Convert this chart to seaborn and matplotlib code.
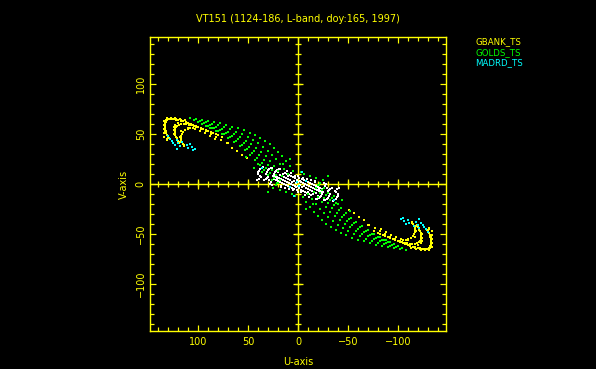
import numpy as np
import pandas as pd
import matplotlib
matplotlib.use("Agg")
import matplotlib.pyplot as plt
import seaborn as sns

# ---------------- data (one half of the uv-plane; conjugate points added) ----
title = "VT151 (1124-186, L-band, doy:165, 1997)"
stations = ["GBANK_TS", "GOLDS_TS", "MADRD_TS"]
station_colors = ["#ffff00", "#00ff00", "#00ffff"]

gbank_u = [129, 130, 131, 132, 132.5, 133, 133, 133, 133, 132.5, 132, 131, 129, 127, 125, 122, 120, 117,
           115, 112, 110, 107, 105, 102, 100, 97, 95, 92, 90, 87, 85, 82, 80, 76, 71, 66, 61, 56, 51,
           131, 134, 134, 134, 134, 133.5, 131, 127, 123, 118, 113,
           120, 121, 122, 123, 123, 123, 123, 122, 121, 119, 117, 114, 112, 109, 107, 104, 102, 97, 92,
           87, 82, 77, 70, 119, 121, 124, 124, 124, 123, 120,
           115, 116, 117, 117, 117, 116, 115, 113, 110, 108, 105, 103, 98, 93, 88, 83, 114, 118, 118, 117]
gbank_v = [46, 47.5, 49, 51, 53, 55, 57, 59, 61, 62.5, 64, 64.5, 65, 65, 65, 64.5, 64, 63.5,
           63, 62, 61, 60, 59, 58, 57, 56, 55, 54, 53, 52, 51, 50, 49, 47, 41, 36, 33, 29, 26,
           44.5, 47, 51, 55, 59, 63, 66, 66, 65.5, 65, 64,
           43, 45, 47, 49, 51, 53, 55, 57, 58, 59, 60, 60, 60, 59.5, 59, 58, 57, 55, 53,
           50, 47, 44, 41, 41.5, 46, 50, 54, 57, 59, 61,
           40, 42, 44, 46, 48, 50, 52, 54, 55.5, 56, 56, 55, 53, 51, 48, 45, 38.5, 42, 47, 53]

golds_u = [108, 102, 96, 90, 84, 78, 72, 66, 60, 54, 48, 43, 38, 33, 28, 24, 20, 16, 12, 8, 5,
           104, 98, 92, 86, 80, 74, 68, 62, 56, 50, 45, 40, 35, 30, 26, 22, 18, 14, 10,
           100, 94, 88, 82, 76, 70, 64, 58, 52, 47, 42, 37, 32, 28, 24, 20, 16,
           96, 90, 84, 78, 72, 66, 60, 54, 49, 44, 39, 34, 30, 26, 22, 18,
           92, 86, 80, 74, 68, 62, 56, 51, 46, 41, 36, 32, 28, 24, 20,
           88, 82, 76, 70, 64, 58, 53, 48, 43, 38, 34, 30, 26, 22,
           12, 18, 6, 25, 30, 15, 8, 21, 3, 44, 36, 52, 40]
golds_v = [66, 65, 64, 63, 62, 61, 59, 57, 56, 54, 51, 49, 46, 43, 40, 36, 32, 28, 23, 18, 13,
           64, 63, 62, 60, 59, 57, 55, 52, 50, 47, 44, 41, 37, 33, 29, 25, 20, 15, 10,
           62, 61, 59, 57, 55, 52, 50, 47, 43, 40, 36, 32, 28, 23, 18, 13, 8,
           60, 58, 56, 54, 51, 48, 45, 41, 37, 33, 29, 24, 19, 14, 9, 4,
           58, 56, 53, 50, 47, 43, 39, 35, 31, 26, 21, 16, 11, 6, 1,
           56, 53, 50, 46, 42, 38, 34, 29, 24, 19, 14, 9, 4, -1,
           -8, -6, -10, -4, -8, 20, 25, 1, -12, 16, 12, 27, 20]

madrd_u = [130, 128, 126, 125, 123, 121, 120, 118, 116, 121, 111, 110, 108, 106, 105, 103, 36, -4, 8, 1]
madrd_v = [48, 45, 43, 41, 39, 44, 41, 38, 42, 35, 39, 36, 40, 37, 34, 35, 16, 12, -3, 2]

other_u = [40, 39, 38, 36, 35, 37, 39, 41, 40, 38, 34,
           32, 31, 30, 29, 27, 26, 30, 32, 31, 29,
           24, 23, 22, 21, 19, 18, 22, 24, 23, 21,
           2, 4, 6, 8, 10, 12, 14, 16, 18, 3, 5, 7, 9, 11, 13, 15, 17, 19, 21,
           1, 3, 5, 7, 9, 11, 13, 6, 8, 10, 12, 14, 16, 18, 20, 22, 24,
           0, 2, 4, 10, 15, 20, 23, 25, 27, 26, 28, 17, 1, 0,
           5, 9, 13, 17, 3, 7, 11]
other_v = [10, 13, 15, 16, 17, 7, 5, 4, 12, 8, 4,
           10, 12, 14, 15, 16, 16, 7, 5, 6, 4,
           10, 12, 13, 14, 15, 15, 7, 6, 8, 5,
           1, 3, 2, 4, 5, 6, 7, 8, 9, -2, -1, 0, 1, 2, 3, 4, 5, 6, 7,
           4, 6, 7, 8, 9, 10, 11, -4, -3, -2, -1, 0, 1, 2, 3, 4, 5,
           2, -3, -5, 8, 10, 12, 9, 8, 2, -1, 0, -2, -6, -8,
           -6, -5, -4, -3, 8, 11, 13]

ticks_major = [-100, -50, 0, 50, 100]
tick_labels = ["\u2212100", "\u221250", "0", "50", "100"]

# ---------------- build tables ----------------------------------------------
parts = []
for name, uu, vv in [("GBANK_TS", gbank_u, gbank_v),
                     ("GOLDS_TS", golds_u, golds_v),
                     ("MADRD_TS", madrd_u, madrd_v),
                     ("OTHER", other_u, other_v)]:
    d = pd.DataFrame({"u": uu, "v": vv})
    d = pd.concat([d, pd.DataFrame({"u": -d["u"], "v": -d["v"]})], ignore_index=True)
    d["station"] = name
    parts.append(d)
df = pd.concat(parts, ignore_index=True)

# ---------------- plot --------------------------------------------------------
sns.set_style("dark")
YEL = "#ffff00"
plt.rcParams["font.family"] = ["DejaVu Sans"]
plt.rcParams["text.color"] = YEL

fig = plt.figure(figsize=(5.96, 3.69), dpi=100, facecolor="black")
ax = fig.add_axes([150 / 596, 1 - 331 / 369, 296 / 596, 294 / 369])
ax.set_facecolor("black")

px = 0.72  # one pixel in points
ax.axhline(0, color=YEL, lw=1.4 * px, zorder=1)
ax.axvline(0, color=YEL, lw=1.4 * px, zorder=1)
minor = np.arange(-140, 141, 10)
ax.plot(minor, np.zeros_like(minor), ls="none", marker="|", ms=6 * px, mew=1.3 * px, color=YEL, zorder=1)
ax.plot(np.zeros_like(minor), minor, ls="none", marker="_", ms=6 * px, mew=1.3 * px, color=YEL, zorder=1)
ax.plot(ticks_major, np.zeros(5), ls="none", marker="|", ms=10 * px, mew=1.3 * px, color=YEL, zorder=1)
ax.plot(np.zeros(5), ticks_major, ls="none", marker="_", ms=10 * px, mew=1.3 * px, color=YEL, zorder=1)

sns.scatterplot(data=df[df.station == "OTHER"], x="u", y="v", color="white", marker="s",
                s=4.5, linewidth=0, ax=ax, legend=False, zorder=2)
main = df[df.station != "OTHER"]
sns.scatterplot(data=main, x="u", y="v", hue="station", hue_order=["GOLDS_TS", "GBANK_TS", "MADRD_TS"],
                palette={s: c for s, c in zip(stations, station_colors)}, marker="s",
                s=4.5, linewidth=0, ax=ax, legend=False, zorder=3)

ax.set_xlim(148, -148)
ax.set_ylim(-147, 147)
ax.set_xticks(ticks_major)
ax.set_xticklabels(tick_labels)
ax.set_yticks(ticks_major)
ax.set_yticklabels(tick_labels)
ax.set_xticks(minor, minor=True)
ax.set_yticks(minor, minor=True)
ax.grid(False)
for sp in ax.spines.values():
    sp.set_visible(True)
    sp.set_color(YEL)
    sp.set_linewidth(1.4 * px)
ax.tick_params(which="both", direction="in", color=YEL, labelcolor=YEL,
               top=True, right=True, bottom=True, left=True, width=1.2 * px)
ax.tick_params(which="major", length=6 * px, labelsize=7)
ax.tick_params(which="minor", length=4 * px)
ax.tick_params(axis="x", which="major", pad=4)
ax.tick_params(axis="y", which="major", pad=3, labelrotation=90)
for lab in ax.get_yticklabels():
    lab.set_va("center")

ax.set_xlabel("U-axis", color=YEL, fontsize=7, labelpad=7.5)
ax.set_ylabel("V-axis", color=YEL, fontsize=7, labelpad=5)
ax.set_title(title, color=YEL, fontsize=7, pad=11)

for i, (name, col) in enumerate(zip(stations, station_colors)):
    fig.text(475 / 596, 1 - (42 + 10.5 * i) / 369, name, color=col, fontsize=6.2,
             ha="left", va="center")

fig.savefig("out.png", dpi=100, facecolor="black")
